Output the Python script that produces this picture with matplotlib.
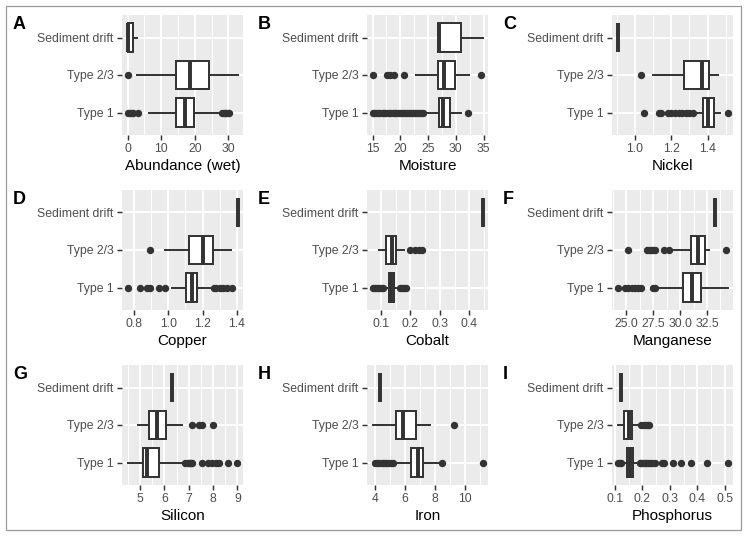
import matplotlib
matplotlib.use("Agg")
import matplotlib.pyplot as plt
from matplotlib.patches import Rectangle
from matplotlib.ticker import AutoMinorLocator

plt.rcParams['font.family'] = ['Liberation Sans', 'DejaVu Sans']

groups = ["Type 1", "Type 2/3", "Sediment drift"]

letters = ["A", "B", "C", "D", "E", "F", "G", "H", "I"]
variables = ["Abundance (wet)", "Moisture", "Nickel", "Copper", "Cobalt",
             "Manganese", "Silicon", "Iron", "Phosphorus"]

# box stats per group, order: Type 1, Type 2/3, Sediment drift
# each entry: (whislo, q1, med, q3, whishi)
box_stats = {
    "Abundance (wet)": [(6.5, 14.4, 17.0, 19.9, 28.0),
                        (2.9, 14.4, 18.5, 24.1, 32.7),
                        (0.05, 0.05, 0.2, 1.7, 2.9)],
    "Moisture": [(24.4, 26.9, 27.6, 29.0, 31.0),
                 (22.9, 26.8, 27.8, 29.8, 32.3),
                 (26.8, 26.8, 27.0, 31.0, 34.8)],
    "Nickel": [(1.327, 1.376, 1.404, 1.433, 1.47),
               (1.10, 1.272, 1.37, 1.409, 1.455),
               (0.903, 0.903, 0.903, 0.903, 0.903)],
    "Copper": [(1.02, 1.103, 1.140, 1.170, 1.258),
               (0.978, 1.122, 1.20, 1.258, 1.364),
               (1.404, 1.404, 1.404, 1.404, 1.404)],
    "Cobalt": [(0.113, 0.127, 0.136, 0.145, 0.163),
               (0.093, 0.117, 0.138, 0.150, 0.18),
               (0.444, 0.444, 0.444, 0.444, 0.444)],
    "Manganese": [(27.85, 30.3, 31.1, 31.9, 34.4),
                  (29.3, 31.06, 31.68, 32.35, 32.66),
                  (33.2, 33.2, 33.2, 33.2, 33.2)],
    "Silicon": [(4.49, 5.12, 5.3, 5.77, 6.71),
                (4.92, 5.36, 5.7, 6.06, 6.74),
                (6.32, 6.32, 6.32, 6.32, 6.32)],
    "Iron": [(5.29, 6.4, 6.89, 7.22, 8.22),
             (3.84, 5.38, 5.91, 6.76, 7.71),
             (4.33, 4.33, 4.33, 4.33, 4.33)],
    "Phosphorus": [(0.13, 0.146, 0.155, 0.167, 0.185),
                   (0.11, 0.134, 0.15, 0.164, 0.179),
                   (0.122, 0.122, 0.122, 0.122, 0.122)],
}

outliers = {
    "Abundance (wet)": [[0.0, 0.6, 1.2, 1.7, 3.2, 28.2, 28.6, 29.0, 29.4, 29.8, 30.3],
                        [0.0], []],
    "Moisture": [[15.0, 15.3, 15.7, 16.0, 16.4, 16.8, 17.1, 17.5, 17.9, 18.2, 18.6,
                  19.0, 19.3, 19.7, 20.1, 20.4, 20.8, 21.2, 21.5, 21.9, 22.3, 22.6,
                  23.0, 23.4, 23.8, 24.1, 32.2],
                 [15.0, 17.6, 18.2, 18.8, 20.7, 34.5], []],
    "Nickel": [[1.05, 1.13, 1.145, 1.18, 1.20, 1.22, 1.24, 1.26, 1.28, 1.30, 1.32, 1.51],
               [1.03], []],
    "Copper": [[0.761, 0.835, 0.873, 0.891, 0.945, 0.978, 1.265, 1.28, 1.30, 1.32,
                1.34, 1.37],
               [0.893], []],
    "Cobalt": [[0.072, 0.08, 0.088, 0.095, 0.1, 0.107, 0.165, 0.172, 0.18, 0.185],
               [0.2, 0.215, 0.23, 0.24], []],
    "Manganese": [[24.2, 24.85, 25.2, 25.5, 25.8, 26.1, 26.4, 27.5, 27.7],
                  [25.2, 26.9, 27.1, 27.3, 27.5, 27.7, 28.5, 29.0, 34.3], []],
    "Silicon": [[6.85, 6.95, 7.0, 7.05, 7.1, 7.15, 7.53, 7.8, 7.95, 8.1, 8.25, 8.6, 9.0],
                [7.13, 7.42, 7.53, 8.0], []],
    "Iron": [[4.0, 4.15, 4.3, 4.45, 4.6, 4.75, 4.9, 5.05, 5.2, 8.49, 11.2],
             [9.27], []],
    "Phosphorus": [[0.11, 0.118, 0.124, 0.19, 0.196, 0.202, 0.208, 0.214, 0.22, 0.228,
                    0.236, 0.245, 0.27, 0.28, 0.31, 0.34, 0.376, 0.435, 0.509],
                   [0.197, 0.205, 0.212, 0.22, 0.225], []],
}

x_ticks = {
    "Abundance (wet)": ["0", "10", "20", "30"],
    "Moisture": ["15", "20", "25", "30", "35"],
    "Nickel": ["1.0", "1.2", "1.4"],
    "Copper": ["0.8", "1.0", "1.2", "1.4"],
    "Cobalt": ["0.1", "0.2", "0.3", "0.4"],
    "Manganese": ["25.0", "27.5", "30.0", "32.5"],
    "Silicon": ["5", "6", "7", "8", "9"],
    "Iron": ["4", "6", "8", "10"],
    "Phosphorus": ["0.1", "0.2", "0.3", "0.4", "0.5"],
}

W, H = 747, 538
fig = plt.figure(figsize=(W / 100, H / 100), dpi=100)

# outer frame
fig.patches.append(Rectangle((6 / W, 1 - 530 / H), 735 / W, 524 / H,
                             transform=fig.transFigure, fill=False,
                             edgecolor="#9a9a9a", linewidth=0.9))

dark = "#333333"
lw = 1.42

for i, var in enumerate(variables):
    r, c = divmod(i, 3)
    left = 122 + 245 * c
    top = 15 + 175 * r
    ax = fig.add_axes([left / W, 1 - (top + 120) / H, 121 / W, 120 / H])
    ax.set_facecolor("#EBEBEB")

    stats = []
    for (lo, q1, med, q3, hi), fl in zip(box_stats[var], outliers[var]):
        stats.append(dict(whislo=lo, q1=q1, med=med, q3=q3, whishi=hi, fliers=fl))

    ax.bxp(stats, positions=[1, 2, 3], widths=0.75, orientation="horizontal",
           patch_artist=True, showcaps=False,
           boxprops=dict(facecolor="white", edgecolor=dark, linewidth=lw),
           medianprops=dict(color=dark, linewidth=lw * 2, solid_capstyle="butt"),
           whiskerprops=dict(color=dark, linewidth=lw),
           flierprops=dict(marker="o", markerfacecolor=dark, markeredgecolor=dark,
                           markersize=4.3, linestyle="none"))

    vals = []
    for s in stats:
        vals += [s["whislo"], s["whishi"]] + list(s["fliers"])
    lo, hi = min(vals), max(vals)
    pad = (hi - lo) * 0.05
    ax.set_xlim(lo - pad, hi + pad)
    ax.set_ylim(0.4, 3.6)

    ticks = [float(t) for t in x_ticks[var]]
    ax.set_xticks(ticks)
    ax.set_xticklabels(x_ticks[var])
    ax.xaxis.set_minor_locator(AutoMinorLocator(2))
    ax.set_yticks([1, 2, 3])
    ax.set_yticklabels(groups)

    ax.grid(True, which="major", color="white", linewidth=lw)
    ax.grid(True, which="minor", axis="x", color="white", linewidth=lw / 2)
    ax.set_axisbelow(True)
    for sp in ax.spines.values():
        sp.set_visible(False)
    ax.tick_params(axis="both", which="major", length=3.8, width=lw * 0.75,
                   color=dark, labelsize=8.8, labelcolor="#4D4D4D", pad=2.2)
    ax.tick_params(axis="x", which="minor", length=0)
    ax.set_xlabel(var, fontsize=11, color="black", labelpad=2.75)

    fig.text((13 + 245 * c) / W, 1 - (16 + 175 * r) / H, letters[i],
             fontsize=13, fontweight="bold", va="top", ha="left")

fig.savefig("out.png", dpi=100)
